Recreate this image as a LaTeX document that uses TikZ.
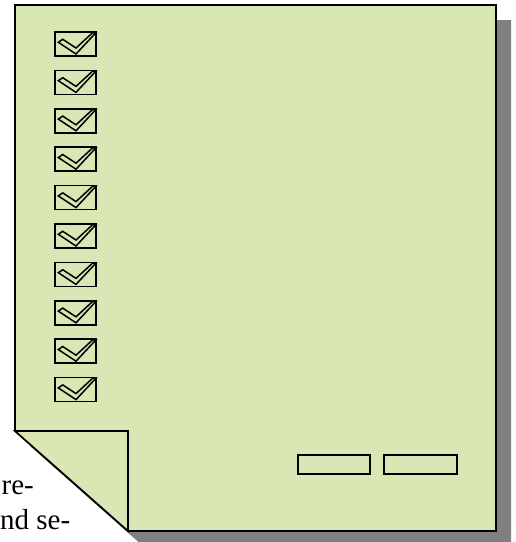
\documentclass[tikz,border=0pt]{standalone}
\usepackage{fontspec}
\setmainfont{Liberation Serif}
\definecolor{pagegreen}{HTML}{D8E7B4}
\definecolor{shadowgray}{HTML}{808080}
\tikzset{
  pageline/.style={draw=black, line width=1.6pt, line join=miter, fill=pagegreen},
  boxline/.style={draw=black, line width=1.5pt, line join=miter},
  btn/.style={draw=black, line width=1.5pt, fill=pagegreen},
  bgtext/.style={anchor=base west, inner sep=0pt, font=\fontsize{29}{34}\selectfont}
}
\begin{document}
\begin{tikzpicture}[x=1pt,y=-1pt]
\useasboundingbox (0,0) rectangle (516,542);
\clip (0,0) rectangle (516,542);
% background text partly covered
\node[bgtext] (t1) at (1.5,494) {re-};
\node[bgtext] (t2) at (0,529) {nd se-};
% shadow
\fill[shadowgray] (30,20) -- (511,20) -- (511,546) -- (143,546) -- (30,446) -- cycle;
% page
\path[pageline] (15,5) -- (496,5) -- (496,531) -- (128,531) -- (15,431) -- cycle;
% fold
\path[pageline] (15,431) -- (128,431) -- (128,531) -- cycle;
% checkboxes
\foreach \i in {0,...,9} {
  \begin{scope}[shift={(55,{32+38.4*\i})}]
    \draw[boxline] (0,0) rectangle (41,24);
    \draw[boxline] (3.3,10.3) -- (21,22) -- (41,0.6) -- (37.7,0.6) -- (21,16) -- (7.7,7.3) -- cycle;
  \end{scope}
}
% buttons
\path[btn] (298,455) rectangle (370,474);
\path[btn] (384,455) rectangle (457,474);
\end{tikzpicture}
\end{document}
